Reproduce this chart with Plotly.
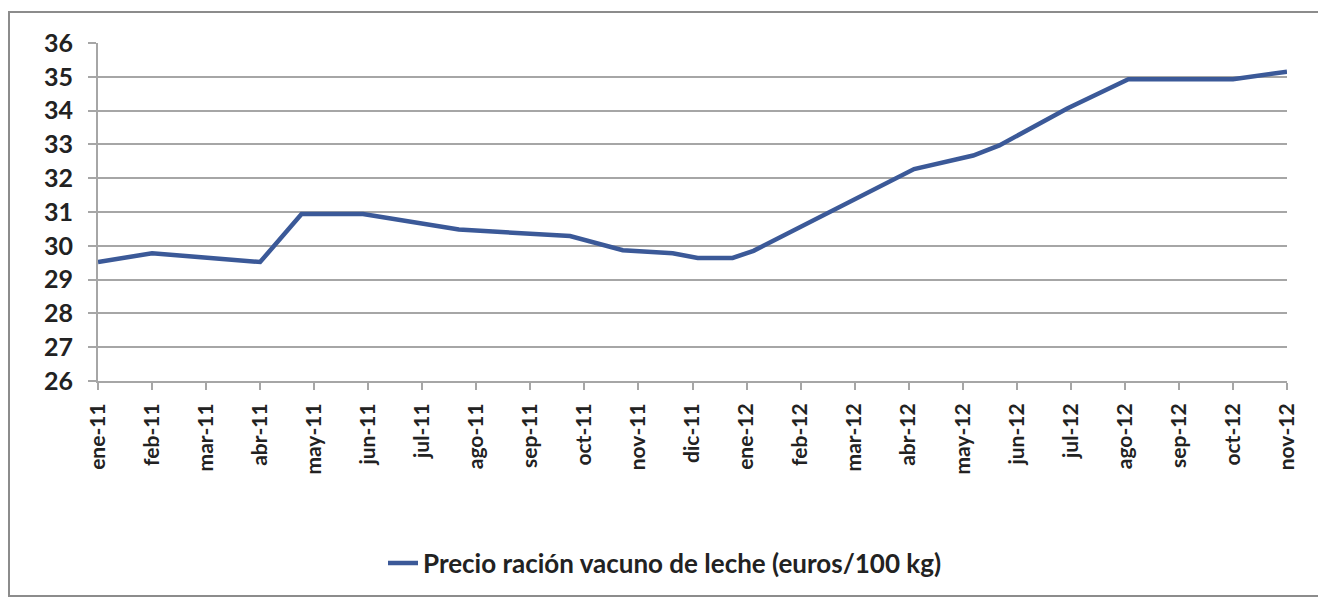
import plotly.graph_objects as go
import pandas as pd

# ---- data ----
month_labels = ["ene-11", "feb-11", "mar-11", "abr-11", "may-11", "jun-11", "jul-11",
                "ago-11", "sep-11", "oct-11", "nov-11", "dic-11", "ene-12", "feb-12",
                "mar-12", "abr-12", "may-12", "jun-12", "jul-12", "ago-12", "sep-12",
                "oct-12", "nov-12"]

obs_dates = ["2011-01-01", "2011-02-01", "2011-04-01", "2011-04-24", "2011-05-29",
             "2011-07-22", "2011-09-23", "2011-10-23", "2011-11-20", "2011-12-04",
             "2011-12-24", "2012-01-05", "2012-04-04", "2012-05-07", "2012-05-22",
             "2012-06-29", "2012-08-03", "2012-10-01", "2012-11-01"]

precio = [29.52, 29.78, 29.52, 30.94, 30.94,
          30.48, 30.29, 29.87, 29.78, 29.64,
          29.64, 29.85, 32.27, 32.67, 32.97,
          34.06, 34.93, 34.93, 35.15]

series_name = "Precio ración vacuno de leche (euros/100 kg)"

# month index position (months equally spaced, fraction within month)
d = pd.to_datetime(pd.Series(obs_dates))
xpos = ((d.dt.year - 2011) * 12 + (d.dt.month - 1)
        + (d.dt.day - 1) / d.dt.days_in_month).tolist()

font_family = "Lato, 'Open Sans', sans-serif"
txt_color = "#222222"
grid_color = "#a6a6a6"

# plot area in figure pixels
L, R, T, B = 90, 1279, 35, 373
W, H = R - L, B - T

fig = go.Figure()
fig.add_trace(go.Scatter(
    x=xpos, y=precio, mode="lines", name=series_name,
    line=dict(color="#3b5998", width=4.5),
))

fig.update_layout(
    width=1326, height=600,
    margin=dict(l=L, r=1326 - R, t=T, b=600 - B),
    paper_bgcolor="white", plot_bgcolor="white",
    font=dict(family=font_family, size=24, color=txt_color, weight="bold"),
    showlegend=True,
    legend=dict(orientation="h", x=(657 - L) / W, y=(B - 555) / H,
                xanchor="center", yanchor="middle",
                font=dict(size=26, color=txt_color, weight="bold"),
                bgcolor="rgba(0,0,0,0)"),
    xaxis=dict(
        range=[0, 22],
        tickmode="array", tickvals=list(range(len(month_labels))), ticktext=month_labels,
        tickangle=-90, ticks="outside", ticklen=7, tickcolor=grid_color, tickwidth=2,
        showline=True, linecolor=grid_color, linewidth=2,
        showgrid=False, zeroline=False,
        tickfont=dict(size=21, color=txt_color, weight="bold"),
        ticklabelstandoff=5,
    ),
    yaxis=dict(
        range=[26, 36], dtick=1, tick0=26,
        ticks="outside", ticklen=8, tickcolor=grid_color, tickwidth=2,
        showline=True, linecolor=grid_color, linewidth=2,
        showgrid=True, gridcolor=grid_color, gridwidth=2,
        zeroline=False,
        tickfont=dict(size=25, color=txt_color, weight="bold"),
        ticklabelstandoff=10,
    ),
    shapes=[dict(type="rect", xref="paper", yref="paper",
                 x0=(1 - L) / W, x1=(1314 - L) / W,
                 y0=(B - 588) / H, y1=(B - 4) / H,
                 line=dict(color="#8c8c8c", width=2), layer="below")],
)

fig.write_html("out.html")
